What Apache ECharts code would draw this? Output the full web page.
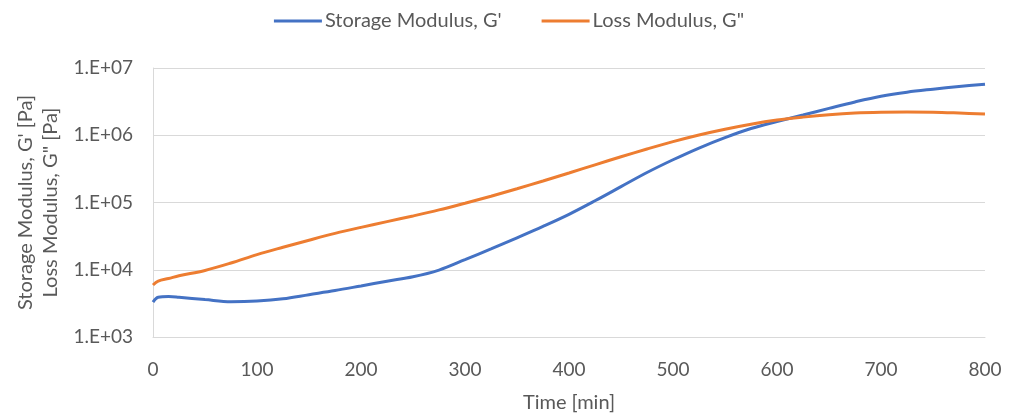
<!DOCTYPE html>
<html>
<head>
<meta charset="utf-8">
<script src="https://cdn.jsdelivr.net/npm/echarts@6/dist/echarts.min.js"></script>
<style>
html,body{margin:0;padding:0;background:#fff;}
#c{width:1018px;height:418px;}
</style>
</head>
<body>
<div id="c"></div>
<script>
var timeMin = [0, 5, 15, 25, 50, 75, 100, 125, 150, 175, 200, 225, 250, 275, 300, 325, 350, 375, 400, 425, 450, 475, 500, 525, 550, 575, 600, 625, 650, 675, 700, 725, 750, 775, 800];
var storageModulus = [3300, 3900, 4000, 3900, 3600, 3350, 3430, 3700, 4260, 4900, 5750, 6760, 7850, 9890, 14100, 20400, 29900, 44200, 66800, 106000, 172000, 279000, 432000, 646000, 923000, 1260000, 1600000, 2000000, 2510000, 3130000, 3800000, 4370000, 4840000, 5310000, 5750000];
var lossModulus = [5930, 6800, 7410, 8130, 9770, 12600, 16800, 21600, 27500, 34700, 42700, 51900, 63100, 77600, 97700, 124000, 160000, 209000, 275000, 363000, 479000, 624000, 804000, 1010000, 1230000, 1460000, 1680000, 1860000, 2020000, 2140000, 2200000, 2220000, 2200000, 2140000, 2070000];
var seriesNames = ["Storage Modulus, G'", 'Loss Modulus, G"'];
var xAxisTitle = 'Time [min]';
var yAxisTitle = "Storage Modulus, G' [Pa]\nLoss Modulus, G\" [Pa]";

function pairs(xs, ys){ return xs.map(function(x,i){ return [x, ys[i]]; }); }

var FONT = 'Lato';
var chart = echarts.init(document.getElementById('c'));
chart.setOption({
  animation: false,
  backgroundColor: '#ffffff',
  textStyle: {fontFamily: FONT},
  legend: {
    top: 6,
    left: 'center',
    itemWidth: 48,
    itemHeight: 3,
    itemGap: 40,
    icon: 'rect',
    textStyle: {fontSize: 20, color: '#595959', fontFamily: FONT, padding: [0, 0, 0, -2]},
    data: seriesNames
  },
  grid: {left: 153, right: 33, top: 68, bottom: 81, containLabel: false},
  xAxis: {
    type: 'value',
    min: 0, max: 800, interval: 100,
    name: xAxisTitle,
    nameLocation: 'middle',
    nameGap: 56,
    nameTextStyle: {fontSize: 20, color: '#595959', fontFamily: FONT},
    axisLine: {show: true, lineStyle: {color: '#d9d9d9', width: 1}},
    axisTick: {show: false},
    axisLabel: {fontSize: 19, color: '#595959', margin: 23, fontFamily: FONT},
    splitLine: {show: false}
  },
  yAxis: {
    type: 'log',
    logBase: 10,
    min: 1000, max: 10000000,
    name: yAxisTitle,
    nameLocation: 'middle',
    nameGap: 86,
    nameRotate: 90,
    nameTextStyle: {fontSize: 20, color: '#595959', fontFamily: FONT, lineHeight: 25},
    axisLine: {show: true, lineStyle: {color: '#d9d9d9', width: 1}},
    axisTick: {show: false},
    axisLabel: {
      fontSize: 19, color: '#595959', margin: 20, fontFamily: FONT,
      formatter: function(v){ var e = Math.round(Math.log10(v)); return '1.E+' + (e < 10 ? '0' + e : e); }
    },
    splitLine: {show: true, lineStyle: {color: '#d9d9d9', width: 1}}
  },
  series: [
    {
      name: seriesNames[0], type: 'line', smooth: 0.35, showSymbol: false,
      data: pairs(timeMin, storageModulus),
      lineStyle: {color: '#4472C4', width: 3}, itemStyle: {color: '#4472C4'}
    },
    {
      name: seriesNames[1], type: 'line', smooth: 0.35, showSymbol: false,
      data: pairs(timeMin, lossModulus),
      lineStyle: {color: '#ED7D31', width: 3}, itemStyle: {color: '#ED7D31'}
    }
  ]
});
</script>
</body>
</html>
